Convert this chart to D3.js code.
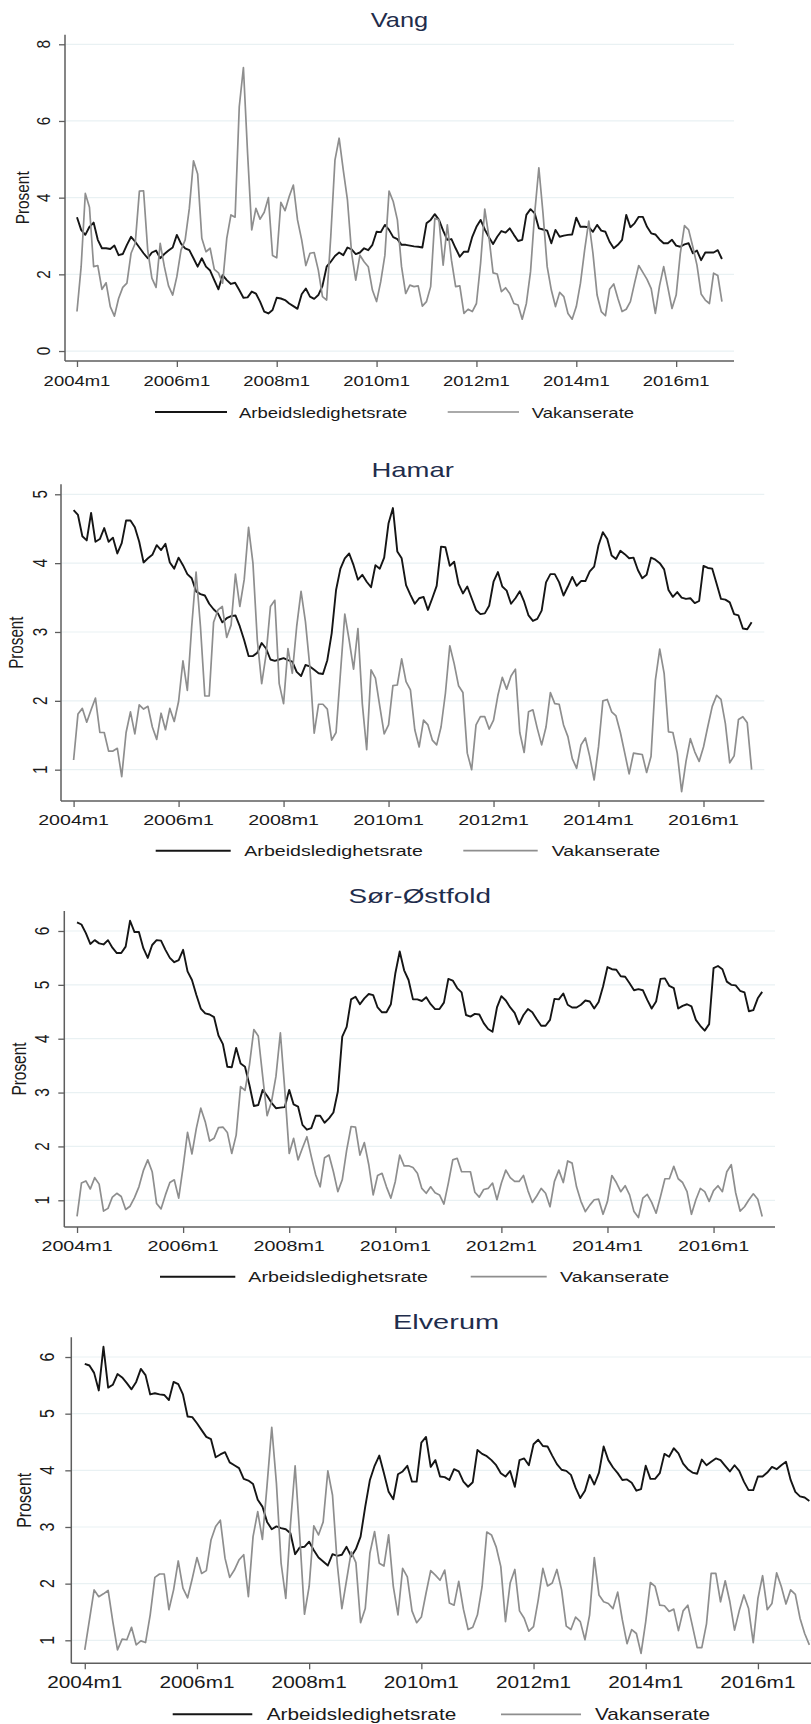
<!DOCTYPE html>
<html>
<head>
<meta charset="utf-8">
<script src="https://cdn.jsdelivr.net/npm/d3@7"></script>
<style>
  body { margin: 0; background: #fff; }
  svg { display: block; }
  text { font-family: "Liberation Sans", Arial, sans-serif; }
</style>
</head>
<body>
<svg id="chart" width="811" height="1724"></svg>
<script>
// Monthly series 2004m1 .. 2016m12 (156 months), percent
const tickMonths = [0, 24, 48, 72, 96, 120, 144];
const tickLabels = ["2004m1", "2006m1", "2008m1", "2010m1", "2012m1", "2014m1", "2016m1"];
const seriesNames = ["Arbeidsledighetsrate", "Vakanserate"];
const regionNames = ["Vang", "Hamar", "Sør-Østfold", "Elverum"];
const yTickSets = [[0, 2, 4, 6, 8], [1, 2, 3, 4, 5], [1, 2, 3, 4, 5, 6], [1, 2, 3, 4, 5, 6]];

const vangLedighet = [
  3.49,3.16,3.03,3.24,3.35,2.9,2.68,2.68,2.66,2.75,2.5,2.53,
  2.77,2.98,2.85,2.7,2.55,2.42,2.57,2.62,2.42,2.53,2.62,2.7,
  3.03,2.8,2.68,2.63,2.42,2.2,2.42,2.2,2.1,1.85,1.61,1.98,
  1.85,1.75,1.78,1.59,1.39,1.4,1.55,1.5,1.29,1.03,0.98,1.07,
  1.39,1.37,1.33,1.24,1.17,1.1,1.48,1.63,1.42,1.36,1.46,1.7,
  2.2,2.33,2.48,2.57,2.5,2.7,2.65,2.53,2.57,2.68,2.63,2.77,
  3.11,3.1,3.29,3.16,2.97,2.92,2.77,2.77,2.75,2.73,2.72,2.7,
  3.33,3.42,3.57,3.42,3.14,2.9,2.92,2.68,2.46,2.59,2.59,2.98,
  3.24,3.42,3.17,2.97,2.79,2.98,3.13,3.09,3.2,3.03,2.87,2.9,
  3.55,3.7,3.59,3.2,3.17,3.14,2.81,3.16,2.98,3.01,3.03,3.04,
  3.48,3.24,3.24,3.23,3.11,3.29,3.14,3.11,2.85,2.68,2.77,2.9,
  3.55,3.23,3.33,3.5,3.5,3.24,3.07,3.04,2.91,2.81,2.81,2.9,
  2.75,2.72,2.78,2.81,2.55,2.62,2.37,2.57,2.57,2.57,2.63,2.4
];
const vangVakanse = [
  1.03,2.2,4.11,3.75,2.2,2.23,1.61,1.78,1.16,0.91,1.37,1.66,
  1.77,2.55,2.81,4.17,4.18,2.63,1.9,1.66,2.81,2.2,1.7,1.46,
  1.94,2.63,2.9,3.72,4.96,4.62,2.94,2.59,2.68,2.13,2.04,1.77,
  2.94,3.55,3.49,6.37,7.39,5.16,3.16,3.72,3.44,3.62,4.0,2.49,
  2.43,3.88,3.66,4.03,4.33,3.42,2.9,2.23,2.55,2.57,2.11,1.42,
  1.33,3.0,4.98,5.55,4.72,3.94,2.55,1.85,2.5,2.33,2.2,1.59,
  1.29,1.81,2.5,4.17,3.9,3.42,2.2,1.5,1.72,1.68,1.7,1.17,
  1.29,1.68,3.46,3.42,2.24,3.29,2.37,1.68,1.7,0.98,1.09,1.03,
  1.24,2.29,3.7,2.98,2.04,2.01,1.55,1.65,1.5,1.24,1.2,0.83,
  1.24,2.07,3.59,4.78,3.59,2.2,1.59,1.16,1.53,1.42,0.98,0.83,
  1.16,1.77,2.63,3.39,2.55,1.46,1.03,0.92,1.61,1.75,1.37,1.03,
  1.09,1.29,1.77,2.23,2.05,1.87,1.63,0.98,1.7,2.2,1.66,1.11,
  1.46,2.55,3.27,3.16,2.72,2.24,1.49,1.33,1.24,2.03,1.97,1.29
];
const hamarLedighet = [
  4.77,4.7,4.39,4.33,4.73,4.31,4.35,4.51,4.31,4.37,4.14,4.29,
  4.62,4.62,4.52,4.31,4.01,4.07,4.12,4.26,4.19,4.28,4.01,3.92,
  4.08,3.97,3.84,3.78,3.59,3.55,3.53,3.41,3.33,3.27,3.14,3.2,
  3.23,3.24,3.08,2.88,2.65,2.65,2.7,2.84,2.76,2.6,2.58,2.6,
  2.62,2.59,2.57,2.42,2.36,2.52,2.5,2.45,2.4,2.39,2.59,2.98,
  3.61,3.92,4.07,4.14,3.97,3.76,3.83,3.73,3.65,3.97,3.92,4.08,
  4.58,4.8,4.17,4.07,3.68,3.54,3.41,3.49,3.51,3.32,3.49,3.67,
  4.24,4.23,3.96,4.02,3.7,3.56,3.66,3.49,3.32,3.26,3.27,3.38,
  3.73,3.87,3.66,3.6,3.41,3.49,3.59,3.44,3.24,3.16,3.19,3.31,
  3.72,3.84,3.84,3.72,3.53,3.66,3.8,3.67,3.74,3.74,3.88,3.95,
  4.26,4.45,4.35,4.11,4.06,4.18,4.13,4.07,4.08,3.9,3.78,3.83,
  4.08,4.05,4.0,3.91,3.61,3.51,3.58,3.5,3.48,3.49,3.42,3.45,
  3.96,3.93,3.92,3.7,3.48,3.47,3.43,3.26,3.24,3.05,3.04,3.14
];
const hamarVakanse = [
  1.14,1.81,1.89,1.69,1.87,2.04,1.54,1.54,1.27,1.27,1.31,0.9,
  1.54,1.84,1.52,1.94,1.88,1.92,1.62,1.44,1.82,1.58,1.89,1.7,
  1.99,2.58,2.15,3.08,3.87,3.08,2.07,2.07,3.14,3.32,3.37,2.92,
  3.1,3.84,3.37,3.76,4.52,4.0,2.88,2.25,2.67,3.37,3.46,2.25,
  1.96,2.76,2.4,3.08,3.59,3.15,2.5,1.53,1.95,1.95,1.88,1.43,
  1.54,2.4,3.26,2.88,2.46,3.05,1.96,1.29,2.45,2.33,1.92,1.52,
  1.65,2.22,2.23,2.61,2.28,2.16,1.58,1.33,1.72,1.65,1.43,1.36,
  1.62,2.11,2.8,2.54,2.22,2.12,1.24,1.0,1.65,1.77,1.77,1.59,
  1.72,2.08,2.34,2.17,2.36,2.46,1.54,1.25,1.84,1.87,1.6,1.36,
  1.62,2.12,1.96,1.95,1.65,1.48,1.16,1.02,1.36,1.46,1.19,0.85,
  1.33,2.0,2.02,1.84,1.78,1.54,1.24,0.94,1.24,1.23,1.22,0.96,
  1.19,2.3,2.75,2.4,1.55,1.54,1.24,0.68,1.12,1.45,1.26,1.12,
  1.33,1.63,1.92,2.08,2.02,1.67,1.1,1.2,1.73,1.77,1.68,1.0
];
const sorLedighet = [
  6.16,6.12,5.96,5.76,5.83,5.77,5.75,5.83,5.69,5.59,5.59,5.71,
  6.19,5.98,5.98,5.68,5.5,5.74,5.83,5.82,5.65,5.5,5.42,5.46,
  5.65,5.25,5.09,4.81,4.56,4.47,4.45,4.4,4.06,3.9,3.48,3.47,
  3.83,3.54,3.48,3.14,2.75,2.77,3.05,2.94,2.81,2.71,2.72,2.73,
  3.05,2.78,2.74,2.4,2.31,2.34,2.57,2.57,2.44,2.52,2.63,3.02,
  4.04,4.22,4.73,4.78,4.64,4.75,4.83,4.81,4.58,4.49,4.49,4.64,
  5.21,5.62,5.27,5.09,4.73,4.73,4.7,4.77,4.64,4.55,4.55,4.67,
  5.11,5.08,4.94,4.86,4.44,4.41,4.46,4.45,4.29,4.18,4.13,4.58,
  4.79,4.71,4.58,4.48,4.27,4.44,4.55,4.49,4.36,4.24,4.24,4.35,
  4.74,4.73,4.84,4.63,4.58,4.58,4.63,4.71,4.69,4.56,4.68,4.97,
  5.33,5.29,5.28,5.16,5.15,5.03,4.9,4.92,4.9,4.72,4.56,4.69,
  5.11,5.12,4.98,4.94,4.56,4.61,4.64,4.6,4.35,4.24,4.15,4.27,
  5.31,5.35,5.29,5.06,5.0,4.99,4.89,4.86,4.51,4.53,4.75,4.87
];
const sorVakanse = [
  0.7,1.32,1.36,1.21,1.42,1.3,0.8,0.85,1.06,1.13,1.07,0.83,
  0.89,1.05,1.25,1.55,1.75,1.53,0.94,0.84,1.1,1.33,1.38,1.04,
  1.62,2.26,1.86,2.34,2.71,2.46,2.1,2.15,2.35,2.36,2.26,1.87,
  2.21,3.11,3.04,3.51,4.17,4.05,3.3,2.57,2.83,3.3,4.11,3.05,
  1.87,2.15,1.75,1.97,2.18,1.81,1.47,1.25,1.79,1.84,1.53,1.16,
  1.38,1.93,2.37,2.36,1.84,2.07,1.66,1.1,1.46,1.5,1.25,1.04,
  1.35,1.84,1.64,1.64,1.61,1.5,1.22,1.13,1.25,1.14,1.1,0.93,
  1.32,1.75,1.78,1.53,1.53,1.53,1.15,1.06,1.2,1.22,1.32,1.01,
  1.32,1.56,1.42,1.35,1.35,1.46,1.18,0.96,1.08,1.22,1.13,0.88,
  1.35,1.56,1.33,1.73,1.69,1.25,0.98,0.79,0.91,1.01,1.02,0.74,
  0.98,1.46,1.33,1.16,1.27,1.1,0.79,0.68,1.04,1.11,0.96,0.76,
  1.07,1.4,1.4,1.63,1.4,1.33,1.16,0.74,1.01,1.22,1.16,0.98,
  1.18,1.27,1.16,1.53,1.66,1.14,0.8,0.88,1.01,1.12,1.02,0.7
];
const elverumLedighet = [
  5.88,5.85,5.72,5.41,6.18,5.46,5.51,5.7,5.64,5.54,5.43,5.56,
  5.79,5.68,5.34,5.36,5.34,5.33,5.24,5.56,5.52,5.34,4.95,4.94,
  4.83,4.71,4.59,4.55,4.23,4.28,4.32,4.14,4.09,4.04,3.85,3.82,
  3.76,3.48,3.36,3.09,2.96,3.01,2.98,2.96,2.89,2.52,2.64,2.65,
  2.74,2.59,2.46,2.39,2.32,2.52,2.49,2.51,2.65,2.48,2.61,2.83,
  3.36,3.83,4.08,4.26,3.95,3.62,3.49,3.93,3.98,4.08,3.8,3.8,
  4.49,4.59,4.06,4.18,3.89,3.88,3.83,4.02,3.98,3.8,3.71,3.79,
  4.36,4.29,4.25,4.18,4.09,3.95,3.89,3.99,3.71,4.18,4.21,4.09,
  4.46,4.54,4.43,4.42,4.26,4.11,4.01,3.99,3.92,3.69,3.51,3.64,
  3.92,3.75,3.96,4.42,4.18,4.05,3.95,3.83,3.84,3.78,3.64,3.67,
  4.08,3.85,3.85,3.95,4.29,4.24,4.39,4.3,4.12,4.02,3.96,3.94,
  4.19,4.09,4.15,4.21,4.18,4.08,3.98,4.09,3.99,3.8,3.65,3.65,
  3.89,3.89,3.96,4.06,4.02,4.09,4.15,3.83,3.62,3.54,3.52,3.46
];
const elverumVakanse = [
  0.83,1.36,1.89,1.77,1.82,1.88,1.33,0.83,1.02,1.01,1.23,0.92,
  0.99,0.96,1.45,2.11,2.17,2.17,1.54,1.89,2.4,1.92,1.75,2.09,
  2.46,2.18,2.23,2.77,3.01,3.12,2.45,2.11,2.24,2.42,2.51,1.77,
  2.83,3.27,2.78,3.74,4.76,3.77,2.36,1.74,3.04,4.08,2.83,1.46,
  1.95,3.02,2.86,3.09,3.99,3.56,2.36,1.56,2.06,2.56,2.37,1.31,
  1.56,2.54,2.92,2.36,2.31,2.86,1.95,1.45,2.27,2.12,1.52,1.31,
  1.41,1.83,2.23,2.15,2.06,2.24,1.66,1.62,2.04,1.55,1.19,1.23,
  1.45,1.95,2.91,2.86,2.65,2.3,1.33,2.01,2.25,1.52,1.39,1.16,
  1.24,1.71,2.27,1.96,2.01,2.25,1.89,1.25,1.19,1.41,1.33,1.01,
  1.45,2.46,1.8,1.68,1.65,1.56,1.85,1.36,0.94,1.19,1.12,0.77,
  1.33,2.02,1.95,1.62,1.61,1.51,1.55,1.17,1.52,1.62,1.25,0.87,
  0.87,1.29,2.18,2.18,1.68,2.05,1.68,1.18,1.52,1.8,1.56,0.96,
  1.74,2.14,1.54,1.65,2.19,1.95,1.64,1.89,1.81,1.39,1.12,0.92
];

const regionSeries = [
  [vangLedighet, vangVakanse],
  [hamarLedighet, hamarVakanse],
  [sorLedighet, sorVakanse],
  [elverumLedighet, elverumVakanse]
];

// Panel geometry: plot box, value range of the y axis, text placement.
// Each panel keeps its own scale and horizontal text stretch.
const xDomain = [-2.88, 157.9];
const layout = [
  { box: { l: 65, r: 734, t: 34.7, b: 361 }, yDomain: [-0.26, 8.25],
    titleX: 399.5, titleY: 20, tickY: 380.7, yLabX: 43, axTitleX: 22,
    legY: 412, legLines: [[155, 227], [447.7, 519]], legText: [239, 531.7],
    fs: 15.4, sx: 1.2, tfs: 20.5, tsx: 1.24 },
  { box: { l: 61, r: 764.3, t: 484.3, b: 801 }, yDomain: [0.545, 5.145],
    titleX: 412.6, titleY: 470, tickY: 819.3, yLabX: 40, axTitleX: 16,
    legY: 850.7, legLines: [[155.7, 230.7], [463.3, 537.7]], legText: [244.3, 551.7],
    fs: 15.2, sx: 1.29, tfs: 20.5, tsx: 1.34 },
  { box: { l: 64.3, r: 775, t: 911, b: 1227 }, yDomain: [0.504, 6.371],
    titleX: 419.7, titleY: 896, tickY: 1245.7, yLabX: 41.7, axTitleX: 19,
    legY: 1276.7, legLines: [[160, 235.3], [470.7, 546.7]], legText: [248.3, 560],
    fs: 15.4, sx: 1.28, tfs: 20.2, tsx: 1.38 },
  { box: { l: 71.3, r: 822.9, t: 1337.3, b: 1663.3 }, yDomain: [0.594, 6.348],
    titleX: 446, titleY: 1321.7, tickY: 1682.7, yLabX: 46.7, axTitleX: 23.3,
    legY: 1714.3, legLines: [[172.7, 252.3], [501, 581]], legText: [266.7, 595],
    fs: 16, sx: 1.3, tfs: 21, tsx: 1.38 }
];

const lineColors = ["#151515", "#8e8e8e"];
const lineWidths = [1.9, 1.7];
const axisColor = "#5e5e5e";
const gridColor = "#e9f1f3";
const titleColor = "#1f2d4c";
const textColor = "#1a1a1a";

const svg = d3.select("#chart");

// text helper: horizontal stretch applied after optional rotation
function stretchedText(g, x, y, str, fs, sx, anchor, rotated, color) {
  g.append("text")
    .attr("transform", `translate(${x},${y}) scale(${sx},1)` + (rotated ? " rotate(-90)" : ""))
    .attr("text-anchor", anchor)
    .attr("fill", color)
    .style("font-size", fs + "px")
    .text(str);
}

regionNames.forEach((name, p) => {
  const L = layout[p];
  const B = L.box;
  const g = svg.append("g");
  const x = d3.scaleLinear().domain(xDomain).range([B.l, B.r]);
  const y = d3.scaleLinear().domain(L.yDomain).range([B.b, B.t]);
  const ticks = yTickSets[p];

  // grid
  g.append("g").selectAll("line").data(ticks).join("line")
    .attr("x1", B.l).attr("x2", B.r)
    .attr("y1", d => y(d)).attr("y2", d => y(d))
    .attr("stroke", gridColor).attr("stroke-width", 1.2);

  // series
  const line = d3.line().x((d, i) => x(i)).y(d => y(d));
  regionSeries[p].forEach((vals, s) => {
    g.append("path").datum(vals)
      .attr("d", line)
      .attr("fill", "none")
      .attr("stroke", lineColors[s])
      .attr("stroke-width", lineWidths[s])
      .attr("stroke-linejoin", "round");
  });

  // axes (ticks from d3, labels drawn stretched)
  const xAxis = g.append("g").attr("transform", `translate(0,${B.b})`)
    .call(d3.axisBottom(x).tickValues(tickMonths).tickSize(6).tickFormat(() => ""));
  const yAxis = g.append("g").attr("transform", `translate(${B.l},0)`)
    .call(d3.axisLeft(y).tickValues(ticks).tickSize(6).tickFormat(() => ""));
  [xAxis, yAxis].forEach(a => {
    a.select(".domain").remove();
    a.selectAll(".tick line").attr("stroke", axisColor).attr("stroke-width", 1.3);
  });
  g.append("line").attr("x1", B.l).attr("x2", B.r).attr("y1", B.b).attr("y2", B.b)
    .attr("stroke", axisColor).attr("stroke-width", 1.5);
  g.append("line").attr("x1", B.l).attr("x2", B.l).attr("y1", B.t).attr("y2", B.b)
    .attr("stroke", axisColor).attr("stroke-width", 1.5);

  const capOff = 0.358 * L.fs;
  tickMonths.forEach((m, i) => {
    stretchedText(g, x(m), L.tickY + capOff, tickLabels[i], L.fs, L.sx, "middle", false, textColor);
  });
  ticks.forEach(v => {
    stretchedText(g, L.yLabX + capOff * L.sx, y(v), String(v), L.fs, L.sx, "middle", true, textColor);
  });
  stretchedText(g, L.axTitleX + capOff * L.sx, (B.t + B.b) / 2, "Prosent", L.fs, L.sx, "middle", true, textColor);

  // title
  stretchedText(g, L.titleX, L.titleY + 0.358 * L.tfs, name, L.tfs, L.tsx, "middle", false, titleColor);

  // legend
  seriesNames.forEach((sn, s) => {
    g.append("line")
      .attr("x1", L.legLines[s][0]).attr("x2", L.legLines[s][1])
      .attr("y1", L.legY).attr("y2", L.legY)
      .attr("stroke", lineColors[s]).attr("stroke-width", lineWidths[s]);
    stretchedText(g, L.legText[s], L.legY + capOff, sn, L.fs, L.sx, "start", false, textColor);
  });
});
</script>
</body>
</html>
